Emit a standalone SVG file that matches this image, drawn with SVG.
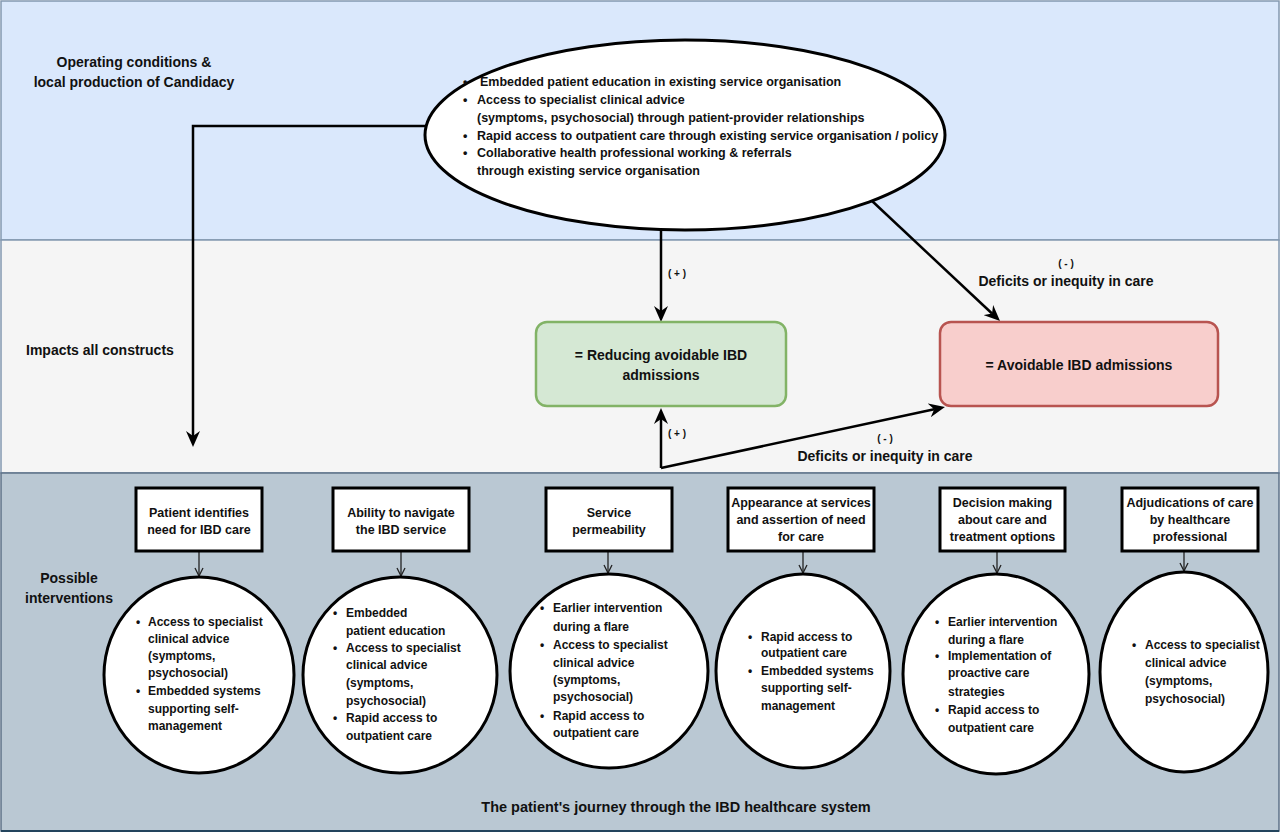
<svg xmlns="http://www.w3.org/2000/svg" width="1280" height="835" viewBox="0 0 1280 835">
<style>
text{font-family:"Liberation Sans",Arial,sans-serif;font-weight:bold;fill:#111;}
.lbl{font-size:14px;}
.t12{font-size:12px;}
.t125{font-size:12.5px;}
.bx{font-size:12.5px;text-anchor:middle;}
.sm{font-size:10px;text-anchor:middle;}
.c{text-anchor:middle;}
.node{fill:#fff;stroke:#000;stroke-width:3;}
.big{fill:none;stroke:#000;stroke-width:2.5;}
.thin{fill:none;stroke:#222;stroke-width:1.3;}
</style>
<defs>
<marker id="ah" viewBox="0 0 16 14" refX="5" refY="7" markerWidth="16" markerHeight="14" markerUnits="userSpaceOnUse" orient="auto">
<path d="M0,0 L16,7 L0,14 L5,7 z" fill="#000"/>
</marker>
<marker id="sa" viewBox="0 0 10 10" refX="9" refY="5" markerWidth="10" markerHeight="10" markerUnits="userSpaceOnUse" orient="auto">
<path d="M1,1 L9,5 L1,9" fill="none" stroke="#222" stroke-width="1.3"/>
</marker>
</defs>
<g id="bands">
<rect x="1" y="1" width="1278" height="239" fill="#dae8fc" stroke="#8398b0" stroke-width="1.5"/>
<rect x="1" y="240" width="1278" height="233" fill="#f5f5f5" stroke="#8398b0" stroke-width="1.5"/>
<rect x="1" y="473" width="1278" height="358" fill="#bac8d3" stroke="#5d7288" stroke-width="1.5"/>
<line x1="1" y1="831" x2="1279" y2="831" stroke="#23445d" stroke-width="2"/>
</g>
<g id="band-labels">
<text class="lbl c" x="134" y="67">Operating conditions &amp;</text>
<text class="lbl c" x="134" y="87">local production of Candidacy</text>
<text class="lbl" x="26" y="355">Impacts all constructs</text>
<text class="lbl c" x="69" y="583">Possible</text>
<text class="lbl c" x="69" y="603">interventions</text>
<text class="c" font-size="14.5" x="676" y="812">The patient's journey through the IBD healthcare system</text>
</g>
<g id="connectors">
<path class="big" d="M426,126 L193,126 L193,436" marker-end="url(#ah)"/>
<path class="big" d="M661,229 L661,311" marker-end="url(#ah)"/>
<path class="big" d="M871,200 L992,313.5" marker-end="url(#ah)"/>
<path class="big" d="M661,468 L661,419" marker-end="url(#ah)"/>
<path class="big" d="M661,468 L934.2,409.3" marker-end="url(#ah)"/>
<path class="thin" d="M199,551 L199,576" marker-end="url(#sa)"/>
<path class="thin" d="M401,551 L401,576" marker-end="url(#sa)"/>
<path class="thin" d="M608,551 L608,573" marker-end="url(#sa)"/>
<path class="thin" d="M803,551 L803,573" marker-end="url(#sa)"/>
<path class="thin" d="M997,551 L997,573" marker-end="url(#sa)"/>
<path class="thin" d="M1184,551 L1184,571" marker-end="url(#sa)"/>
<text class="sm" x="677" y="277">( + )</text>
<text class="sm" x="677" y="437">( + )</text>
<text class="sm" x="1066" y="267">( - )</text>
<text class="lbl c" x="1066" y="286">Deficits or inequity in care</text>
<text class="sm" x="885" y="442">( - )</text>
<text class="lbl c" x="885" y="461">Deficits or inequity in care</text>
</g>
<g id="operating-conditions">
<ellipse class="node" cx="685" cy="135" rx="260" ry="95"/>
<g class="t125">
<text x="463" y="86">•</text><text x="480" y="86">Embedded patient education in existing service organisation</text>
<text x="463" y="104">•</text><text x="477" y="104">Access to specialist clinical advice</text>
<text x="477" y="122">(symptoms, psychosocial) through patient-provider relationships</text>
<text x="463" y="140">•</text><text x="477" y="140">Rapid access to outpatient care through existing service organisation / policy</text>
<text x="463" y="157">•</text><text x="477" y="157">Collaborative health professional working &amp; referrals</text>
<text x="477" y="175">through existing service organisation</text>
</g>
</g>
<g id="reducing-admissions">
<rect x="536" y="322" width="250" height="84" rx="11" fill="#d5e8d4" stroke="#82b366" stroke-width="2.5"/>
<text class="c" font-size="14" x="661" y="360">= Reducing avoidable IBD</text>
<text class="c" font-size="14" x="661" y="380">admissions</text>
</g>
<g id="avoidable-admissions">
<rect x="940" y="322" width="278" height="84" rx="11" fill="#f8cecc" stroke="#b85450" stroke-width="2.5"/>
<text class="c" font-size="14" x="1079" y="370">= Avoidable IBD admissions</text>
</g>
<g id="box1">
<rect class="node" x="136" y="488" width="126" height="63"/>
<text class="bx" x="199" y="516.5">Patient identifies</text>
<text class="bx" x="199" y="533.5">need for IBD care</text>
</g>
<g id="box2">
<rect class="node" x="333" y="488" width="136" height="63"/>
<text class="bx" x="401" y="516.5">Ability to navigate</text>
<text class="bx" x="401" y="533.5">the IBD service</text>
</g>
<g id="box3">
<rect class="node" x="546" y="488" width="126" height="63"/>
<text class="bx" x="609" y="516.5">Service</text>
<text class="bx" x="609" y="533.5">permeability</text>
</g>
<g id="box4">
<rect class="node" x="728" y="488" width="146" height="63"/>
<text class="bx" x="801" y="506.5">Appearance at services</text>
<text class="bx" x="801" y="523.5">and assertion of need</text>
<text class="bx" x="801" y="541">for care</text>
</g>
<g id="box5">
<rect class="node" x="940" y="488" width="125" height="63"/>
<text class="bx" x="1002.5" y="506.5">Decision making</text>
<text class="bx" x="1002.5" y="523.5">about care and</text>
<text class="bx" x="1002.5" y="541">treatment options</text>
</g>
<g id="box6">
<rect class="node" x="1122" y="488" width="136" height="63"/>
<text class="bx" x="1190" y="506.5">Adjudications of care</text>
<text class="bx" x="1190" y="523.5">by healthcare</text>
<text class="bx" x="1190" y="541">professional</text>
</g>
<g id="circle1" class="t12">
<ellipse class="node" cx="199" cy="675" rx="95" ry="98"/>
<text x="136" y="626">•</text><text x="148" y="626">Access to specialist</text>
<text x="148" y="643">clinical advice</text>
<text x="148" y="660">(symptoms,</text>
<text x="148" y="677">psychosocial)</text>
<text x="136" y="695">•</text><text x="148" y="695">Embedded systems</text>
<text x="148" y="713">supporting self-</text>
<text x="148" y="730">management</text>
</g>
<g id="circle2" class="t12">
<ellipse class="node" cx="400" cy="675" rx="97" ry="98"/>
<text x="333" y="617">•</text><text x="346" y="617">Embedded</text>
<text x="346" y="635">patient education</text>
<text x="333" y="652">•</text><text x="346" y="652">Access to specialist</text>
<text x="346" y="669">clinical advice</text>
<text x="346" y="687">(symptoms,</text>
<text x="346" y="705">psychosocial)</text>
<text x="333" y="722">•</text><text x="346" y="722">Rapid access to</text>
<text x="346" y="740">outpatient care</text>
</g>
<g id="circle3" class="t12">
<ellipse class="node" cx="609" cy="671" rx="99" ry="97"/>
<text x="540" y="612">•</text><text x="553" y="612">Earlier intervention</text>
<text x="553" y="631">during a flare</text>
<text x="540" y="649">•</text><text x="553" y="649">Access to specialist</text>
<text x="553" y="667">clinical advice</text>
<text x="553" y="684">(symptoms,</text>
<text x="553" y="701">psychosocial)</text>
<text x="540" y="720">•</text><text x="553" y="720">Rapid access to</text>
<text x="553" y="737">outpatient care</text>
</g>
<g id="circle4" class="t12">
<ellipse class="node" cx="803" cy="671" rx="87" ry="97"/>
<text x="748" y="641">•</text><text x="761" y="641">Rapid access to</text>
<text x="761" y="657">outpatient care</text>
<text x="748" y="675">•</text><text x="761" y="675">Embedded systems</text>
<text x="761" y="692">supporting self-</text>
<text x="761" y="710">management</text>
</g>
<g id="circle5" class="t12">
<ellipse class="node" cx="996" cy="674" rx="93" ry="100"/>
<text x="935" y="626">•</text><text x="948" y="626">Earlier intervention</text>
<text x="948" y="644">during a flare</text>
<text x="935" y="660">•</text><text x="948" y="660">Implementation of</text>
<text x="948" y="677">proactive care</text>
<text x="948" y="696">strategies</text>
<text x="935" y="714">•</text><text x="948" y="714">Rapid access to</text>
<text x="948" y="732">outpatient care</text>
</g>
<g id="circle6" class="t12">
<ellipse class="node" cx="1184" cy="672" rx="84" ry="100"/>
<text x="1132" y="649">•</text><text x="1145" y="649">Access to specialist</text>
<text x="1145" y="667">clinical advice</text>
<text x="1145" y="685">(symptoms,</text>
<text x="1145" y="703">psychosocial)</text>
</g>
</svg>
